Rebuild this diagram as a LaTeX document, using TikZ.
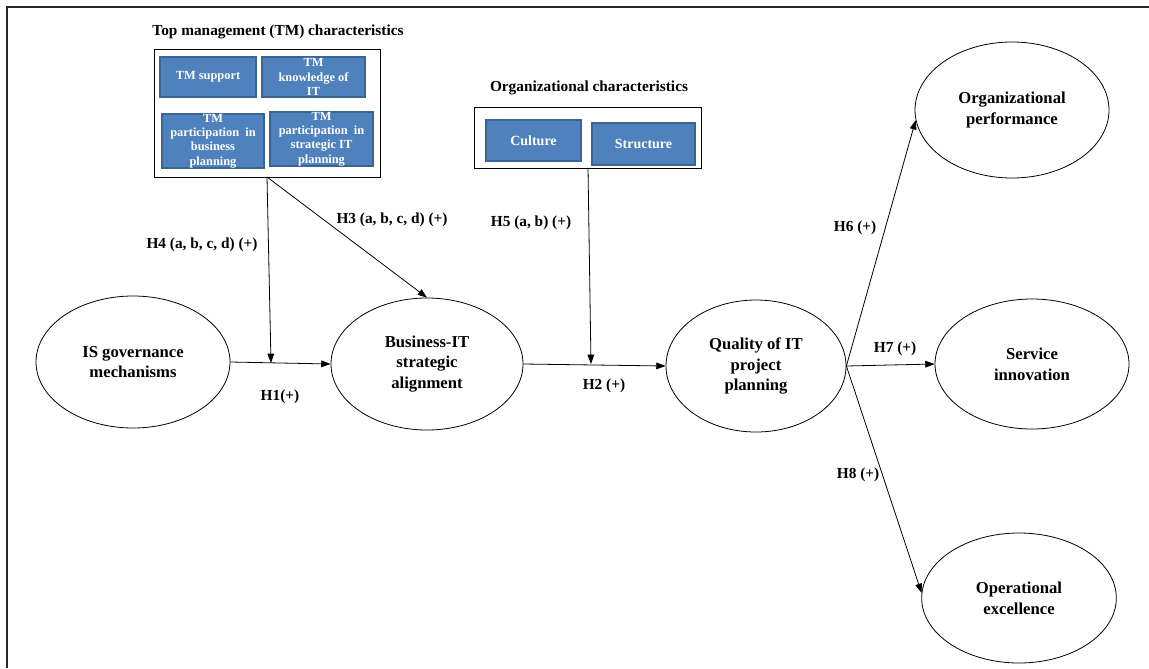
\documentclass[tikz,border=0pt]{standalone}
\usepackage{fontspec}
\setmainfont{Liberation Serif}
\usetikzlibrary{shapes.geometric,arrows.meta}
\definecolor{boxblue}{HTML}{4F81BD}
\definecolor{boxedge}{HTML}{3A6494}
\tikzset{
  construct/.style={draw, line width=0.6pt, ellipse, inner sep=0pt, align=center,
    font=\fontsize{12.5}{15.5}\selectfont\bfseries},
  bluebox/.style={draw=boxedge, line width=1.3pt, fill=boxblue, text=white, align=center,
    inner sep=0pt, font=\fontsize{9.3}{10.8}\selectfont\bfseries},
  groupbox/.style={draw, line width=0.6pt},
  grouptitle/.style={font=\fontsize{11.5}{13}\selectfont\bfseries},
  hyp/.style={font=\fontsize{11.5}{13}\selectfont\bfseries},
  link/.style={line width=0.6pt, -{Triangle[length=7pt,width=5pt]}},
  plain/.style={line width=0.6pt}
}
\begin{document}
\begin{tikzpicture}[x=0.75pt,y=-0.75pt]
\useasboundingbox (0,0) rectangle (1149,668);
% outer frame
\draw[line width=1.2pt, black!85] (7,668) -- (7,7) -- (1149,7);

% TM group
\node[grouptitle] (tmtitle) at (278,32) {Top management (TM) characteristics};
\draw[groupbox] (154,49) rectangle (380,177);
\node[bluebox, minimum width=72pt, minimum height=30pt] (tms) at (208,77) {TM support};
\node[bluebox, minimum width=77pt, minimum height=30pt] (tmk) at (313.5,77) {TM\\knowledge of\\IT};
\node[bluebox, minimum width=76.5pt, minimum height=39pt] (tmp) at (213,141) {TM\\participation\ \ in\\business\\planning};
\node[bluebox, minimum width=77pt, minimum height=39pt] (tmsp) at (321.5,139) {TM\\participation\ \ in\\strategic IT\\planning};

% Org group
\node[grouptitle] (orgtitle) at (589,88) {Organizational characteristics};
\draw[groupbox] (474,107) rectangle (701,168);
\node[bluebox, minimum width=71pt, minimum height=31pt] (cul) at (533.5,140.5) {\fontsize{10.5}{12}\selectfont Culture};
\node[bluebox, minimum width=77pt, minimum height=31pt] (str) at (643.5,144) {\fontsize{10.5}{12}\selectfont Structure};

% constructs
\node[construct, minimum width=145.5pt, minimum height=99pt] (isg) at (133,362) {IS governance\\mechanisms};
\node[construct, minimum width=144pt, minimum height=99pt] (bit) at (427,364) {Business-IT\\strategic\\alignment};
\node[construct, minimum width=135pt, minimum height=99pt] (qit) at (756,366) {Quality of IT\\project\\planning};
\node[construct, minimum width=145.5pt, minimum height=102pt] (op) at (1012,110) {Organizational\\performance};
\node[construct, minimum width=145.5pt, minimum height=97.5pt] (si) at (1032,364) {Service\\innovation};
\node[construct, minimum width=146pt, minimum height=97.5pt] (oe) at (1019,598) {Operational\\excellence};

% coordinates
\coordinate (tmout) at (267,177);
\coordinate (h4tip) at (271,363);
\coordinate (orgout) at (588,168);
\coordinate (h5tip) at (591,364);

% connectors
\draw[link] (isg.east) -- (bit.west);
\draw[link] (tmout) -- (h4tip);
\draw[link] (tmout) -- (bit.north);
\draw[link] (bit.east) -- (qit.west);
\draw[link] (orgout) -- (h5tip);
\draw[link] (qit.east) -- (op.186);
\draw[link] (qit.east) -- (si.west);
\draw[link] (qit.east) -- (oe.177);

% labels
\node[hyp] (l4) at (202,245) {H4 (a, b, c, d) (+)};
\node[hyp] (l3) at (392,220) {H3 (a, b, c, d) (+)};
\node[hyp] (l5) at (531,223) {H5 (a, b) (+)};
\node[hyp] (l1) at (280,397) {H1(+)};
\node[hyp] (l2) at (604,386) {H2 (+)};
\node[hyp] (l6) at (855,228) {H6 (+)};
\node[hyp] (l7) at (895,349) {H7 (+)};
\node[hyp] (l8) at (858,475) {H8 (+)};
\end{tikzpicture}
\end{document}
